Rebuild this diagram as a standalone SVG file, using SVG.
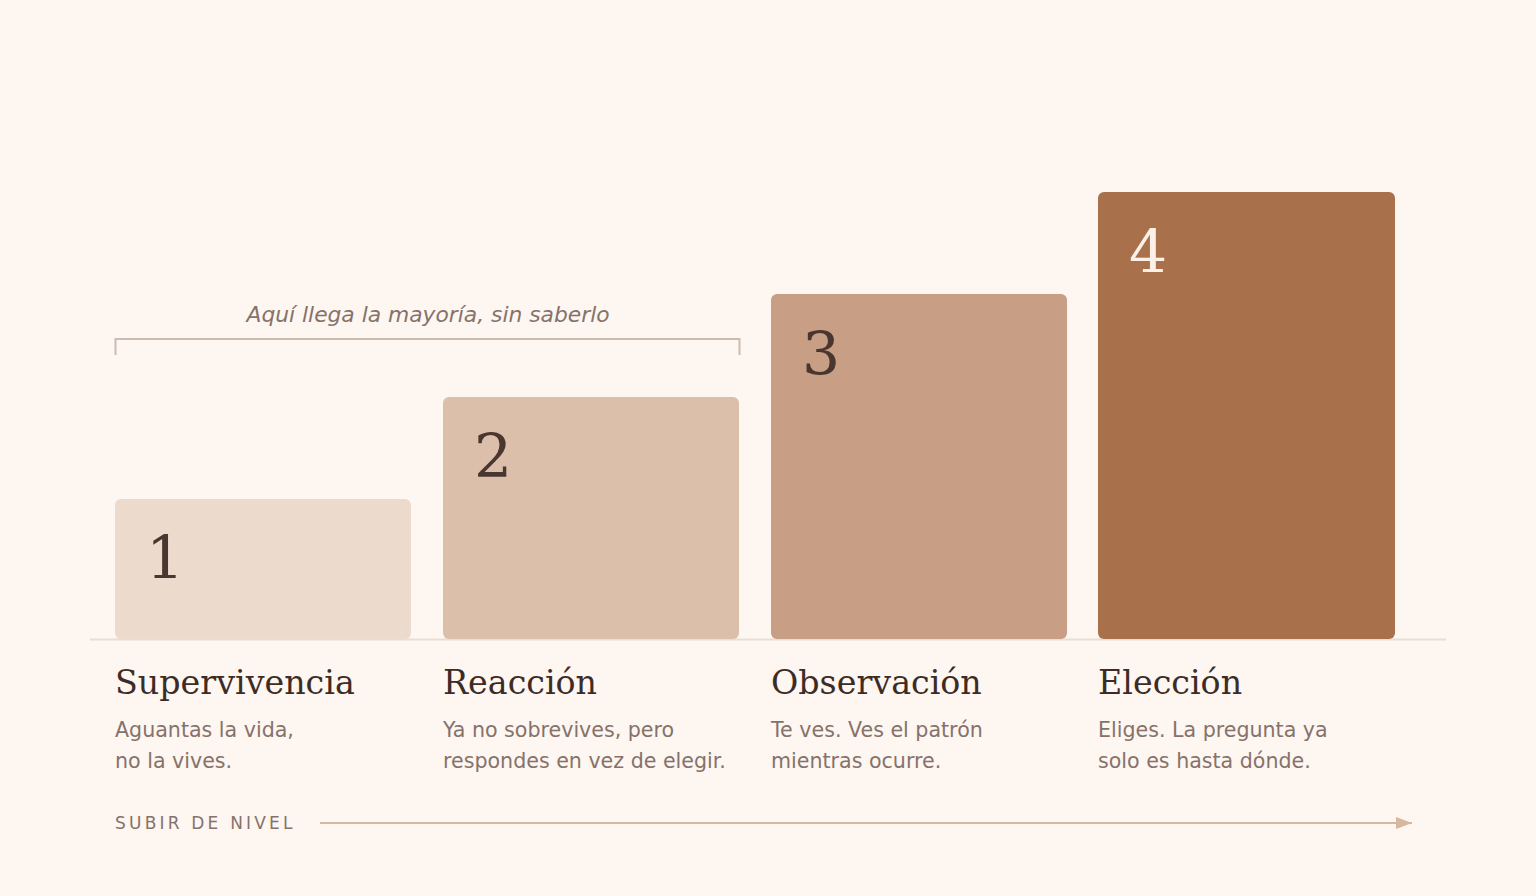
<svg xmlns="http://www.w3.org/2000/svg" width="1536" height="896" viewBox="0 0 1536 896">
<defs>
<style>
.num{font-family:"DejaVu Serif",serif;font-size:60px;fill:#4a3630}
.title{font-family:"DejaVu Serif",serif;font-size:33.3px;fill:#3d2c26}
.desc{font-family:"DejaVu Sans",sans-serif;font-size:20.6px;fill:#86726a}
.note{font-family:"DejaVu Sans",sans-serif;font-size:21.8px;font-style:italic;fill:#86726a}
.axis{font-family:"DejaVu Sans",sans-serif;font-size:17px;letter-spacing:3.2px;fill:#86726a}
</style>
<marker id="ah" markerWidth="16" markerHeight="12" refX="16" refY="6" orient="auto" markerUnits="userSpaceOnUse">
<path d="M0,0 L16,6 L0,12 Z" fill="#d6b79f"/>
</marker>
</defs>
<rect width="1536" height="896" fill="#fdf6f1"/>
<g id="annotation">
<text class="note" x="428" y="322" text-anchor="middle">Aquí llega la mayoría, sin saberlo</text>
<path d="M115.5,355 V339 H739.5 V355" fill="none" stroke="#cbbbb1" stroke-width="2"/>
</g>
<g id="connectors">
<line x1="90" y1="639.5" x2="1446" y2="639.5" stroke="#eaddd4" stroke-width="2"/>
<line x1="320" y1="823" x2="1412" y2="823" stroke="#d6b79f" stroke-width="2" marker-end="url(#ah)"/>
</g>
<g id="step1">
<rect x="115" y="499" width="296" height="140" rx="6" fill="#ecdbcd"/>
<text class="num" x="146" y="579">1</text>
<text class="title" x="115" y="694">Supervivencia</text>
<text class="desc" x="115" y="737">Aguantas la vida,</text>
<text class="desc" x="115" y="768">no la vives.</text>
</g>
<g id="step2">
<rect x="443" y="397" width="296" height="242" rx="6" fill="#dbbfaa"/>
<text class="num" x="474" y="477">2</text>
<text class="title" x="443" y="694">Reacción</text>
<text class="desc" x="443" y="737">Ya no sobrevives, pero</text>
<text class="desc" x="443" y="768">respondes en vez de elegir.</text>
</g>
<g id="step3">
<rect x="771" y="294" width="296" height="345" rx="6" fill="#c89f84"/>
<text class="num" x="802" y="375">3</text>
<text class="title" x="771" y="694">Observación</text>
<text class="desc" x="771" y="737">Te ves. Ves el patrón</text>
<text class="desc" x="771" y="768">mientras ocurre.</text>
</g>
<g id="step4">
<rect x="1098" y="192" width="297" height="447" rx="6" fill="#a8704b"/>
<text class="num" x="1129" y="273" style="fill:#fbefe6">4</text>
<text class="title" x="1098" y="694">Elección</text>
<text class="desc" x="1098" y="737">Eliges. La pregunta ya</text>
<text class="desc" x="1098" y="768">solo es hasta dónde.</text>
</g>
<g id="axis-label">
<text class="axis" x="115" y="829">SUBIR DE NIVEL</text>
</g>
</svg>
